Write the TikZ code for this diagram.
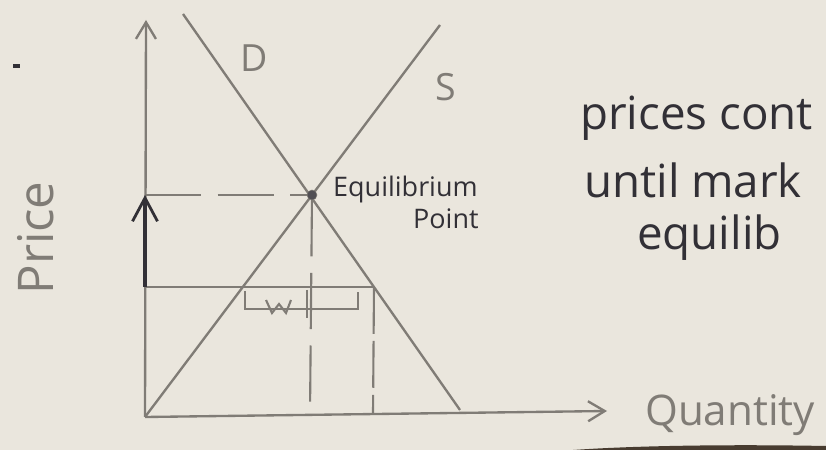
\documentclass[tikz,border=0pt]{standalone}
\usepackage{fontspec}
\setmainfont{Open Sans}
\usetikzlibrary{arrows.meta, positioning}
\definecolor{paper}{RGB}{234,230,221}
\definecolor{pencil}{RGB}{128,124,118}
\definecolor{ink}{RGB}{50,48,54}
\definecolor{edge}{RGB}{72,60,48}
\tikzset{
  axis/.style={
    draw=pencil,
    line width=2pt,
    -{Straight Barb[length=5mm,width=6mm,line width=2pt]}
  },
  curve/.style={draw=pencil, line width=2pt},
  guide/.style={draw=pencil, line width=1.8pt, dash pattern=on 48pt off 14pt},
  rise/.style={
    draw=ink,
    line width=3.4pt,
    -{Straight Barb[length=7mm,width=7.5mm,line width=2.4pt]}
  },
  pencilText/.style={text=pencil, inner sep=0pt},
  inkText/.style={text=ink, inner sep=0pt, anchor=base west},
  eqdot/.style={circle, fill=ink!85, draw=pencil, inner sep=0pt, minimum size=3mm}
}
\begin{document}
\begin{tikzpicture}[x=0.3mm, y=-0.3mm]
  \fill[paper] (0,0) rectangle (826,450);
  \useasboundingbox (0,0) rectangle (826,450);
  \fill[edge] (560,451) .. controls (620,446) and (720,444) .. (826,446) -- (826,451) -- cycle;

  % axes and curves
  \coordinate (origin) at (145,417);
  \coordinate (ytop) at (146,20);
  \coordinate (xend) at (607,411);
  \coordinate (dtop) at (183,14);
  \coordinate (dbot) at (460,410);
  \coordinate (stop) at (440,25);
  \draw[axis] (origin) -- (ytop);
  \draw[axis] (origin) -- (xend);
  \draw[curve] (dtop) -- (dbot);
  \draw[curve] (origin) -- (stop);
  \draw[curve, draw=ink, line width=2.6pt] (13,66) -- (20,66);

  % equilibrium and lower price
  \node[eqdot] (eq) at (312,195) {};
  \coordinate (peq) at (145,195);
  \coordinate (qeq) at (310,415);
  \coordinate (plow) at (145,287);
  \coordinate (dlow) at (374,287);
  \coordinate (qd) at (373,413);
  \draw[guide] (peq) -- (eq);
  \draw[guide] (eq) -- (qeq);
  \draw[curve] (plow) -- (dlow);
  \draw[guide, dash pattern=on 40pt off 6pt] (dlow) -- (qd);
  \draw[rise] (plow) -- (peq);

  % shortage bracket
  \draw[curve, line width=1.8pt] (245,291) -- (245,309) -- (358,309) -- (358,292);
  \draw[curve, line width=1.8pt] (266,300) -- (272,313) -- (279,304) -- (286,313) -- (291,300);
  \draw[curve, line width=1.8pt] (307,290) -- (307,318);

  % labels
  \node[pencilText, font=\fontsize{32}{32}\selectfont] (dlabel) at (254,58) {D};
  \node[pencilText, font=\fontsize{32}{32}\selectfont] (slabel) at (446,87) {S};
  \node[inkText, font=\fontsize{23}{23}\selectfont] (eqlabel) at (333,197) {Equilibrium};
  \node[inkText, font=\fontsize{23}{23}\selectfont] (ptlabel) at (413,229) {Point};
  \node[pencilText, rotate=90, font=\fontsize{42}{42}\selectfont] (ylabel) at (36,238) {Price};
  \node[pencilText, anchor=base west, font=\fontsize{36}{36}\selectfont] (xlabel) at (645,425) {Quantity};
  \node[inkText, font=\fontsize{39}{39}\selectfont] (note1) at (580,130) {prices cont};
  \node[inkText, font=\fontsize{39}{39}\selectfont] (note2) at (584,198) {until mark};
  \node[inkText, font=\fontsize{39}{39}\selectfont] (note3) at (637,250) {equilib};
\end{tikzpicture}
\end{document}
